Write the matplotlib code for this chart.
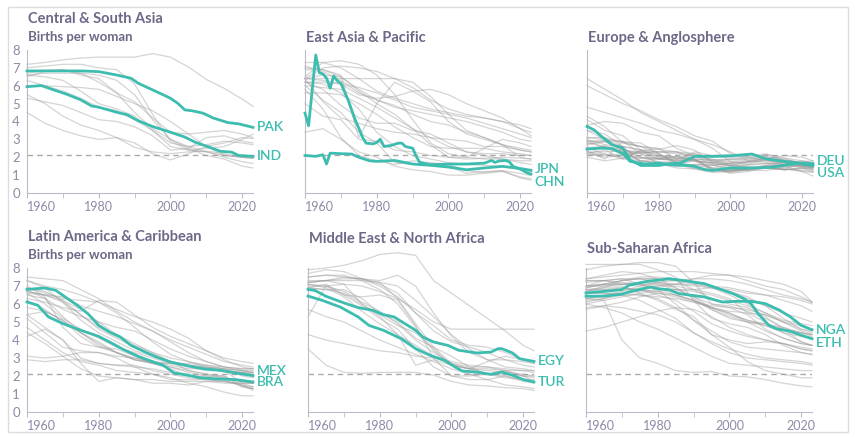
import matplotlib
matplotlib.use("Agg")
import matplotlib.pyplot as plt
from matplotlib.patches import Rectangle

plt.rcParams['font.family'] = ['Lato', 'DejaVu Sans']

years = [1960, 1965, 1970, 1975, 1980, 1985, 1990, 1995, 2000, 2005, 2010, 2015, 2020, 2023]

# Central & South Asia
csa_gray = [
    [7.2, 7.3, 7.45, 7.55, 7.6, 7.6, 7.6, 7.8, 7.6, 7.05, 6.35, 5.85, 5.25, 4.85],
    [6.5, 6.8, 6.9, 6.7, 6.2, 5.6, 5.1, 4.2, 3.4, 3.3, 3.4, 3.5, 3.3, 3.1],
    [6.7, 6.85, 6.9, 6.6, 6.4, 5.6, 4.5, 3.6, 3.0, 2.6, 2.3, 2.1, 2.0, 1.95],
    [6.0, 6.0, 5.95, 5.9, 5.8, 5.4, 5.0, 4.6, 4.0, 3.3, 2.6, 2.1, 2.0, 1.95],
    [5.5, 5.0, 4.3, 3.8, 3.5, 3.1, 2.55, 2.3, 2.2, 2.3, 2.35, 2.2, 2.0, 1.95],
    [6.6, 6.7, 6.7, 6.7, 6.6, 6.3, 5.5, 4.1, 3.0, 2.5, 2.1, 1.9, 1.5, 1.4],
    [7.0, 7.1, 7.2, 7.2, 7.0, 6.9, 6.1, 4.4, 2.9, 2.4, 2.3, 2.0, 1.75, 1.65],
    [6.3, 6.0, 5.7, 5.3, 4.8, 4.6, 4.1, 3.5, 2.6, 2.4, 2.5, 2.6, 3.0, 3.3],
    [6.6, 6.5, 6.3, 5.7, 5.0, 4.7, 4.3, 3.5, 2.8, 2.6, 2.7, 2.9, 2.8, 2.7],
    [5.3, 5.1, 4.9, 4.5, 4.1, 4.0, 3.7, 3.2, 2.4, 2.5, 3.1, 3.2, 2.9, 2.8],
    [4.5, 3.9, 3.5, 3.2, 3.0, 3.1, 2.8, 2.2, 1.85, 2.2, 2.6, 2.8, 3.1, 3.05],
]
pak_years = [1960, 1975, 1980, 1985, 1989, 1991, 1995, 1998, 2000, 2002, 2004, 2006, 2009, 2012, 2016, 2019, 2023]
pak = [6.83, 6.83, 6.79, 6.6, 6.42, 6.14, 5.77, 5.49, 5.3, 5.02, 4.65, 4.6, 4.47, 4.19, 3.94, 3.87, 3.67]
ind_years = [1960, 1964, 1967, 1971, 1975, 1978, 1980, 1985, 1988, 1991, 1995, 2000, 2004, 2007, 2011, 2014, 2017, 2019, 2023]
ind = [5.95, 6.01, 5.8, 5.53, 5.21, 4.87, 4.8, 4.52, 4.37, 4.04, 3.72, 3.4, 3.13, 2.83, 2.55, 2.33, 2.29, 2.1, 2.05]

# East Asia & Pacific
eap_gray = [
    [6.0, 5.2, 4.5, 3.4, 2.8, 1.7, 1.6, 1.65, 1.5, 1.1, 1.2, 1.25, 0.84, 0.72],
    [5.8, 4.7, 3.1, 2.1, 1.8, 1.6, 1.8, 1.7, 1.6, 1.25, 1.15, 1.25, 1.1, 0.97],
    [3.4, 3.6, 3.0, 2.3, 2.0, 1.5, 1.3, 1.2, 1.0, 1.0, 1.1, 1.2, 0.9, 0.8],
    [6.2, 6.1, 5.6, 4.7, 3.4, 2.6, 2.1, 1.9, 1.7, 1.6, 1.55, 1.5, 1.3, 1.2],
    [6.2, 5.8, 4.9, 4.2, 3.9, 3.9, 3.5, 3.3, 2.8, 2.3, 2.1, 1.9, 1.7, 1.6],
    [5.6, 5.6, 5.5, 5.0, 4.4, 3.7, 3.1, 2.6, 2.5, 2.5, 2.5, 2.3, 2.2, 2.1],
    [7.1, 6.8, 6.3, 5.6, 5.2, 4.9, 4.4, 4.0, 3.8, 3.4, 3.1, 2.7, 2.0, 1.9],
    [6.4, 6.6, 6.5, 5.7, 5.0, 4.4, 3.6, 2.7, 2.0, 1.9, 1.95, 2.0, 1.95, 1.9],
    [6.9, 6.9, 6.6, 3.1, 5.0, 6.2, 5.7, 5.1, 4.0, 3.3, 3.0, 2.7, 2.4, 2.3],
    [6.4, 6.4, 6.4, 6.4, 6.4, 6.4, 6.2, 5.4, 4.4, 3.5, 3.1, 2.7, 2.5, 2.4],
    [6.0, 5.9, 5.8, 5.3, 4.8, 4.2, 3.6, 3.1, 2.6, 2.3, 2.2, 2.2, 2.1, 2.1],
    [6.5, 7.3, 7.4, 7.2, 6.6, 5.5, 4.1, 2.8, 2.2, 2.0, 2.5, 3.0, 2.8, 2.6],
    [6.2, 6.2, 6.1, 5.9, 5.6, 5.2, 4.8, 4.6, 4.4, 4.2, 3.9, 3.6, 3.3, 3.1],
    [6.4, 7.0, 7.1, 7.0, 6.8, 6.4, 5.9, 5.2, 4.7, 4.4, 4.2, 4.0, 3.6, 3.4],
    [6.4, 6.3, 6.1, 5.5, 5.3, 5.4, 5.7, 5.8, 5.5, 5.0, 4.6, 4.2, 3.6, 3.2],
    [6.4, 5.1, 4.2, 3.9, 3.6, 3.4, 3.3, 3.1, 3.0, 2.9, 2.6, 2.6, 2.4, 2.3],
    [7.3, 7.3, 7.0, 6.4, 5.7, 5.3, 5.0, 4.7, 4.5, 4.3, 4.2, 4.0, 3.8, 3.6],
    [5.0, 4.3, 4.1, 3.0, 2.9, 2.4, 2.3, 2.1, 2.0, 2.0, 1.9, 1.9, 1.8, 1.8],
    [7.0, 6.9, 6.5, 5.8, 5.2, 4.8, 4.6, 4.4, 4.2, 4.0, 3.7, 3.4, 3.0, 2.9],
]
chn_years = [1960, 1961, 1963, 1964, 1965, 1966, 1967, 1968, 1969, 1970, 1971, 1972, 1973, 1974, 1975,
             1976, 1977, 1979, 1980, 1981, 1982, 1984, 1986, 1987, 1988, 1989, 1990, 1991, 1992, 1995,
             2000, 2005, 2010, 2012, 2013, 2014, 2016, 2017, 2018, 2020, 2022, 2023]
chn = [4.47, 3.76, 7.72, 6.73, 6.66, 6.42, 5.86, 6.55, 6.27, 6.14, 5.67, 5.21, 4.65, 4.09, 3.63,
       3.13, 2.79, 2.75, 2.83, 3.01, 2.6, 2.66, 2.79, 2.79, 2.6, 2.55, 2.51, 2.05, 1.71, 1.58,
       1.62, 1.62, 1.67, 1.82, 1.71, 1.79, 1.82, 1.73, 1.49, 1.34, 1.12, 1.06]
jpn_years = [1960, 1963, 1965, 1966, 1967, 1970, 1973, 1975, 1978, 1980, 1985, 1990, 1995, 2000, 2005, 2010, 2015, 2019, 2023]
jpn = [2.1, 2.05, 2.14, 1.62, 2.23, 2.2, 2.18, 2.0, 1.8, 1.77, 1.82, 1.62, 1.55, 1.45, 1.3, 1.4, 1.49, 1.4, 1.27]

# Europe & Anglosphere
eur_gray = [
    [6.4, 5.8, 5.2, 4.5, 4.0, 3.5, 3.0, 2.7, 2.3, 1.8, 1.7, 1.6, 1.45, 1.35],
    [6.0, 5.5, 5.0, 4.6, 4.1, 3.7, 3.2, 2.9, 2.2, 2.0, 1.8, 1.7, 1.5, 1.4],
    [4.3, 3.7, 2.8, 2.6, 2.5, 1.9, 2.3, 2.1, 2.1, 2.05, 2.2, 1.8, 1.7, 1.6],
    [3.8, 4.0, 3.9, 3.4, 3.2, 2.5, 2.1, 1.85, 1.9, 1.9, 2.05, 1.85, 1.7, 1.55],
    [4.1, 3.5, 3.2, 2.4, 2.0, 1.9, 2.2, 2.0, 2.0, 2.0, 2.15, 1.95, 1.6, 1.55],
    [3.8, 3.1, 2.3, 1.8, 1.7, 1.6, 1.8, 1.65, 1.5, 1.55, 1.65, 1.6, 1.4, 1.3],
    [3.5, 3.0, 2.9, 2.2, 1.9, 1.9, 1.9, 1.8, 1.75, 1.8, 1.95, 1.8, 1.6, 1.5],
    [2.7, 2.9, 2.4, 1.8, 1.9, 1.8, 1.8, 1.7, 1.65, 1.75, 1.9, 1.8, 1.55, 1.45],
    [2.75, 2.85, 2.5, 1.95, 1.95, 1.8, 1.8, 1.7, 1.9, 1.95, 2.0, 1.95, 1.8, 1.65],
    [2.4, 2.65, 2.4, 2.2, 1.65, 1.4, 1.35, 1.2, 1.25, 1.35, 1.45, 1.35, 1.25, 1.2],
    [2.85, 2.95, 2.85, 2.8, 2.2, 1.6, 1.35, 1.15, 1.2, 1.35, 1.4, 1.35, 1.2, 1.15],
    [3.1, 3.1, 2.8, 2.6, 2.2, 1.7, 1.55, 1.4, 1.55, 1.4, 1.4, 1.3, 1.4, 1.4],
    [2.95, 2.5, 2.2, 2.25, 2.3, 2.3, 2.05, 1.6, 1.35, 1.25, 1.4, 1.3, 1.35, 1.2],
    [2.55, 2.15, 2.0, 1.95, 1.9, 2.05, 1.9, 1.35, 1.2, 1.3, 1.55, 1.75, 1.5, 1.4],
    [2.2, 2.0, 2.1, 2.0, 1.95, 2.05, 1.85, 1.4, 1.1, 1.2, 1.45, 1.5, 1.2, 0.95],
    [2.35, 1.9, 2.9, 2.6, 2.45, 2.3, 1.85, 1.35, 1.3, 1.4, 1.5, 1.6, 1.8, 1.7],
    [2.0, 1.8, 1.95, 2.35, 1.9, 1.85, 1.85, 1.55, 1.3, 1.3, 1.25, 1.45, 1.6, 1.55],
    [2.1, 2.2, 1.9, 2.4, 2.1, 1.95, 1.9, 1.3, 1.15, 1.3, 1.5, 1.6, 1.7, 1.65],
    [2.2, 2.4, 1.9, 1.8, 1.7, 1.75, 2.1, 1.75, 1.55, 1.75, 1.95, 1.85, 1.7, 1.55],
    [2.9, 2.9, 2.5, 2.0, 1.75, 1.7, 1.9, 1.85, 1.85, 1.85, 1.95, 1.75, 1.5, 1.45],
    [3.1, 3.0, 2.6, 1.7, 1.6, 1.5, 1.6, 1.55, 1.7, 1.7, 1.8, 1.65, 1.55, 1.45],
    [2.55, 2.6, 2.25, 1.75, 1.7, 1.5, 1.6, 1.55, 1.65, 1.75, 1.85, 1.7, 1.55, 1.5],
    [2.3, 2.3, 2.4, 2.3, 2.2, 1.7, 1.4, 1.3, 1.25, 1.3, 1.5, 1.3, 1.4, 1.3],
    [2.8, 2.6, 2.3, 2.3, 2.3, 2.2, 2.1, 1.9, 1.6, 1.45, 1.4, 1.45, 1.5, 1.5],
    [2.3, 2.1, 2.2, 2.25, 2.05, 2.0, 1.8, 1.25, 1.25, 1.4, 1.55, 1.55, 1.6, 1.6],
    [3.5, 3.3, 2.6, 2.4, 2.45, 2.65, 2.4, 1.7, 1.5, 1.45, 1.4, 1.3, 1.75, 1.8],
    [4.8, 4.5, 4.2, 3.9, 3.5, 3.3, 3.0, 2.5, 1.75, 1.6, 1.65, 1.7, 1.6, 1.6],
    [3.0, 2.7, 2.6, 2.4, 2.3, 2.3, 2.2, 1.8, 1.55, 1.6, 1.9, 2.1, 2.0, 1.8],
]
usa_years = [1960, 1962, 1964, 1967, 1970, 1972, 1975, 1980, 1983, 1986, 1990, 1995, 2000, 2006, 2010, 2015, 2019, 2023]
usa = [3.72, 3.53, 3.16, 2.7, 2.51, 1.86, 1.54, 1.54, 1.64, 1.67, 2.05, 2.05, 2.08, 2.18, 1.9, 1.77, 1.67, 1.53]
deu_years = [1960, 1964, 1967, 1970, 1972, 1976, 1980, 1983, 1988, 1990, 1993, 1995, 2000, 2006, 2011, 2016, 2019, 2023]
deu = [2.46, 2.51, 2.48, 2.2, 1.77, 1.62, 1.67, 1.58, 1.54, 1.49, 1.3, 1.27, 1.4, 1.4, 1.43, 1.58, 1.67, 1.64]

# Latin America & Caribbean
lac_gray = [
    [6.9, 6.6, 6.3, 6.2, 6.1, 5.7, 5.3, 5.0, 4.6, 4.1, 3.4, 2.9, 2.5, 2.4],
    [7.5, 7.4, 7.3, 6.8, 6.3, 5.6, 5.0, 4.5, 3.9, 3.3, 2.8, 2.5, 2.3, 2.2],
    [7.3, 7.0, 6.8, 6.5, 6.1, 5.5, 4.7, 3.9, 3.2, 2.8, 2.5, 2.4, 2.3, 2.2],
    [6.6, 6.5, 6.4, 5.9, 5.6, 5.3, 4.9, 4.5, 4.0, 3.6, 3.2, 2.8, 2.6, 2.5],
    [6.3, 6.1, 5.8, 5.6, 6.2, 6.1, 5.4, 4.7, 4.2, 3.8, 3.4, 3.0, 2.8, 2.7],
    [6.7, 6.5, 6.2, 5.7, 5.0, 4.3, 3.8, 3.3, 2.8, 2.3, 2.1, 1.9, 1.7, 1.6],
    [6.5, 6.3, 5.7, 5.3, 5.0, 4.7, 4.5, 4.0, 3.5, 3.1, 2.8, 2.5, 2.4, 2.4],
    [6.9, 6.7, 6.2, 5.4, 4.6, 4.1, 3.6, 3.2, 2.8, 2.6, 2.5, 2.3, 2.2, 2.1],
    [6.7, 6.5, 6.1, 5.4, 4.7, 4.2, 3.7, 3.3, 3.0, 2.8, 2.6, 2.4, 2.0, 1.9],
    [6.8, 6.3, 5.3, 4.4, 3.8, 3.3, 3.0, 2.7, 2.5, 2.2, 2.0, 1.9, 1.7, 1.6],
    [6.6, 6.0, 5.2, 4.6, 4.1, 3.6, 3.3, 3.0, 2.7, 2.5, 2.3, 2.3, 2.2, 2.1],
    [7.3, 6.9, 6.1, 5.1, 4.4, 3.9, 3.4, 3.1, 2.8, 2.6, 2.4, 2.3, 2.2, 2.2],
    [7.0, 6.4, 4.7, 3.8, 3.6, 3.5, 3.1, 2.7, 2.4, 2.0, 1.9, 1.8, 1.4, 1.3],
    [5.8, 5.6, 5.1, 4.2, 3.6, 3.3, 2.9, 2.8, 2.7, 2.6, 2.5, 2.4, 2.3, 2.3],
    [5.4, 5.6, 5.1, 4.4, 3.7, 3.3, 2.9, 2.7, 2.5, 2.3, 2.1, 2.0, 1.4, 1.3],
    [5.4, 4.7, 4.0, 3.0, 2.7, 2.6, 2.6, 2.3, 2.1, 1.9, 1.8, 1.7, 1.5, 1.2],
    [3.1, 3.0, 3.1, 3.3, 3.3, 3.1, 3.0, 2.8, 2.6, 2.4, 2.4, 2.3, 1.6, 1.4],
    [2.9, 2.8, 2.9, 2.9, 2.7, 2.6, 2.5, 2.4, 2.2, 2.0, 2.0, 2.0, 1.5, 1.3],
    [4.2, 4.6, 4.0, 2.7, 1.7, 1.9, 1.8, 1.6, 1.6, 1.5, 1.7, 1.7, 1.5, 1.4],
    [4.7, 4.0, 3.3, 2.8, 2.6, 2.3, 2.2, 2.1, 1.9, 1.6, 1.4, 1.1, 0.9, 0.9],
    [5.2, 4.4, 3.6, 3.4, 3.3, 3.0, 2.5, 2.1, 1.8, 1.8, 1.8, 1.7, 1.6, 1.6],
    [6.2, 5.7, 5.0, 4.4, 3.9, 3.3, 2.9, 2.7, 2.7, 2.7, 2.6, 2.5, 2.4, 2.4],
    [4.4, 3.8, 3.1, 2.4, 2.0, 1.9, 1.8, 1.8, 1.7, 1.7, 1.7, 1.6, 1.6, 1.6],
]
mex_years = [1960, 1965, 1968, 1970, 1974, 1977, 1980, 1983, 1986, 1989, 1993, 1996, 2000, 2005, 2009, 2014, 2018, 2023]
mex = [6.81, 6.89, 6.76, 6.48, 5.93, 5.46, 4.81, 4.44, 4.17, 3.7, 3.33, 3.06, 2.78, 2.56, 2.41, 2.31, 2.17, 2.02]
bra_years = [1960, 1963, 1966, 1970, 1975, 1980, 1983, 1987, 1991, 1994, 1998, 2001, 2005, 2008, 2012, 2018, 2023]
bra = [6.11, 5.93, 5.28, 4.91, 4.54, 4.2, 3.89, 3.46, 3.09, 2.87, 2.59, 2.17, 2.04, 1.91, 1.85, 1.8, 1.67]

# Middle East & North Africa
mena_gray = [
    [7.9, 8.0, 8.15, 8.4, 8.75, 8.85, 8.7, 7.3, 6.6, 5.9, 5.2, 4.5, 3.7, 3.4],
    [5.3, 7.0, 7.1, 7.0, 6.7, 6.3, 5.7, 5.0, 4.6, 4.6, 4.6, 4.6, 4.6, 4.6],
    [7.2, 7.3, 7.3, 7.3, 7.2, 7.0, 6.2, 5.3, 4.3, 3.5, 2.9, 2.5, 2.4, 2.3],
    [7.3, 7.3, 7.4, 7.4, 7.3, 7.6, 7.0, 5.5, 4.2, 3.3, 2.9, 2.9, 2.6, 2.5],
    [7.5, 7.6, 7.5, 7.4, 7.1, 6.6, 5.5, 4.5, 3.9, 3.6, 3.3, 2.9, 2.8, 2.7],
    [7.7, 7.9, 7.8, 7.4, 7.0, 6.4, 5.5, 4.8, 4.0, 3.7, 3.6, 3.3, 2.9, 2.8],
    [7.5, 7.6, 7.6, 7.3, 6.8, 6.0, 4.7, 3.4, 2.6, 2.4, 2.8, 3.1, 2.9, 2.7],
    [7.0, 7.0, 6.7, 6.1, 5.6, 4.9, 4.0, 3.3, 2.7, 2.5, 2.5, 2.4, 2.3, 2.2],
    [7.1, 7.0, 6.5, 5.9, 5.2, 4.6, 3.5, 2.5, 2.0, 2.0, 2.1, 2.3, 2.0, 1.7],
    [7.2, 7.3, 7.5, 7.4, 7.2, 6.3, 4.9, 3.6, 2.7, 2.4, 2.4, 2.3, 2.3, 2.3],
    [6.9, 7.1, 6.5, 6.4, 6.5, 6.2, 4.8, 3.0, 2.0, 1.8, 1.8, 2.0, 1.7, 1.6],
    [7.2, 7.3, 7.1, 6.0, 5.3, 4.3, 2.6, 2.9, 2.6, 2.4, 2.3, 2.2, 2.1, 2.0],
    [6.9, 6.8, 6.6, 6.0, 5.4, 4.8, 4.4, 3.5, 2.6, 2.1, 1.8, 1.5, 1.4, 1.3],
    [6.9, 6.8, 6.8, 6.3, 5.5, 5.0, 4.1, 3.6, 3.1, 2.5, 2.1, 1.9, 1.8, 1.8],
    [7.1, 6.9, 6.4, 5.6, 4.9, 4.3, 3.7, 3.1, 2.6, 2.4, 2.1, 2.0, 1.8, 1.7],
    [5.7, 5.3, 5.0, 4.5, 4.0, 3.6, 3.2, 2.8, 2.4, 2.1, 2.1, 2.1, 2.0, 2.0],
    [4.3, 4.0, 3.8, 3.6, 3.4, 3.3, 3.1, 3.0, 2.8, 2.6, 2.5, 2.3, 2.0, 1.9],
    [3.5, 2.6, 2.2, 2.15, 2.2, 2.2, 2.2, 2.05, 1.7, 1.5, 1.45, 1.35, 1.3, 1.2],
]
egy_years = [1960, 1962, 1965, 1970, 1974, 1978, 1981, 1984, 1987, 1990, 1992, 1995, 1999, 2002, 2007, 2011, 2013, 2014, 2017, 2019, 2023]
egy = [6.81, 6.75, 6.43, 6.06, 5.8, 5.65, 5.41, 5.28, 4.91, 4.54, 4.17, 3.89, 3.7, 3.43, 3.28, 3.33, 3.52, 3.52, 3.28, 2.96, 2.81]
tur_years = [1960, 1964, 1969, 1974, 1977, 1981, 1986, 1990, 1994, 1998, 2001, 2003, 2007, 2011, 2014, 2017, 2020, 2023]
tur = [6.44, 6.2, 5.83, 5.28, 4.81, 4.54, 4.07, 3.52, 3.15, 2.87, 2.5, 2.28, 2.22, 2.09, 2.22, 2.04, 1.8, 1.67]

# Sub-Saharan Africa
ssa_gray = [
    [7.4, 7.5, 7.6, 7.7, 7.8, 7.8, 7.8, 7.7, 7.6, 7.5, 7.3, 7.1, 6.7, 6.1],
    [7.3, 7.3, 7.1, 7.0, 7.0, 7.1, 7.4, 7.6, 7.6, 7.3, 7.0, 6.8, 6.4, 6.1],
    [6.0, 6.2, 6.4, 6.6, 6.7, 6.8, 6.8, 6.9, 6.8, 6.6, 6.5, 6.4, 6.2, 6.0],
    [6.3, 6.5, 6.7, 7.0, 7.2, 7.3, 7.4, 7.4, 7.3, 7.1, 6.8, 6.5, 6.3, 6.1],
    [7.0, 7.0, 7.1, 7.2, 7.2, 7.1, 7.1, 7.0, 6.9, 6.7, 6.5, 6.2, 5.9, 5.6],
    [6.7, 6.9, 7.3, 7.5, 7.5, 7.4, 7.2, 7.0, 6.7, 6.3, 5.9, 5.5, 5.2, 5.0],
    [6.9, 7.1, 7.3, 7.4, 7.4, 7.3, 7.1, 6.9, 6.5, 6.0, 5.5, 5.1, 4.9, 4.8],
    [7.0, 7.1, 7.1, 7.1, 7.1, 7.1, 7.0, 6.9, 6.7, 6.4, 5.9, 5.2, 4.6, 4.4],
    [6.8, 6.8, 6.8, 6.8, 6.7, 6.5, 6.2, 5.8, 5.6, 5.5, 5.4, 5.0, 4.8, 4.6],
    [6.6, 6.6, 6.6, 6.5, 6.4, 6.3, 6.1, 5.9, 5.8, 5.7, 5.4, 5.0, 4.6, 4.5],
    [6.3, 6.4, 6.6, 6.7, 6.8, 6.8, 6.7, 6.5, 6.2, 5.9, 5.5, 5.0, 4.5, 4.3],
    [5.7, 5.9, 6.1, 6.4, 6.6, 6.5, 6.2, 5.7, 5.3, 5.0, 4.8, 4.4, 4.2, 4.1],
    [6.8, 6.9, 6.9, 6.8, 6.5, 6.2, 5.6, 4.9, 4.5, 4.2, 4.0, 3.8, 3.6, 3.5],
    [7.9, 8.1, 8.2, 8.2, 7.9, 7.5, 6.2, 5.2, 4.9, 4.7, 4.3, 3.7, 3.3, 3.2],
    [8.2, 8.2, 8.2, 8.3, 8.3, 8.1, 7.2, 6.0, 5.8, 5.4, 4.6, 4.1, 3.8, 3.7],
    [7.0, 7.3, 7.4, 7.4, 7.2, 6.9, 6.4, 6.0, 5.9, 5.6, 5.2, 4.7, 4.3, 4.1],
    [7.2, 7.3, 7.4, 7.1, 6.8, 6.0, 5.1, 4.3, 4.0, 3.8, 3.9, 3.8, 3.5, 3.4],
    [7.0, 7.1, 7.1, 7.2, 7.1, 6.8, 6.4, 5.8, 5.4, 5.1, 4.9, 4.6, 4.4, 4.2],
    [7.3, 7.3, 7.2, 7.1, 6.9, 6.5, 6.2, 5.8, 5.5, 5.0, 4.5, 4.1, 3.8, 3.7],
    [7.4, 7.6, 7.8, 7.7, 7.4, 6.9, 6.3, 5.7, 5.2, 5.0, 4.9, 4.7, 4.4, 4.3],
    [6.7, 6.8, 6.9, 6.8, 6.6, 6.4, 6.1, 5.8, 5.5, 5.1, 4.8, 4.6, 4.4, 4.3],
    [6.9, 7.1, 7.3, 7.4, 7.4, 7.3, 6.8, 6.3, 6.0, 5.8, 5.3, 4.6, 3.9, 3.7],
    [6.1, 6.3, 6.6, 6.9, 7.0, 7.0, 6.8, 6.6, 6.3, 5.5, 5.0, 4.4, 3.9, 3.7],
    [6.6, 6.6, 6.5, 6.2, 5.7, 5.2, 4.4, 3.8, 3.3, 3.0, 2.9, 2.8, 2.7, 2.6],
    [6.0, 5.8, 5.5, 5.0, 4.6, 4.1, 3.6, 3.1, 2.7, 2.6, 2.5, 2.4, 2.3, 2.3],
    [5.8, 5.9, 5.8, 5.6, 5.4, 5.0, 4.4, 3.9, 3.5, 3.2, 3.0, 2.9, 2.8, 2.7],
    [4.5, 4.7, 5.0, 5.3, 5.6, 5.8, 5.7, 5.3, 4.7, 4.3, 4.0, 3.8, 3.5, 3.4],
    [6.3, 6.2, 4.0, 3.0, 2.7, 2.3, 2.2, 2.25, 2.0, 1.95, 1.8, 1.6, 1.45, 1.4],
    [6.7, 7.0, 7.0, 6.6, 6.2, 5.7, 5.3, 4.3, 3.6, 2.8, 2.3, 2.1, 1.9, 1.9],
    [6.2, 6.3, 6.5, 6.5, 6.3, 5.8, 5.1, 4.5, 3.9, 3.6, 3.5, 3.4, 3.3, 3.2],
]
eth_years = [1960, 1965, 1970, 1972, 1977, 1982, 1983, 1987, 1993, 1997, 2001, 2004, 2006, 2008, 2011, 2013, 2017, 2020, 2023]
eth = [6.61, 6.7, 6.8, 7.04, 7.26, 7.37, 7.41, 7.31, 7.13, 6.85, 6.57, 6.3, 6.02, 5.46, 4.81, 4.63, 4.48, 4.26, 4.07]
nga_years = [1960, 1965, 1970, 1972, 1978, 1980, 1983, 1986, 1993, 1998, 2002, 2006, 2010, 2014, 2017, 2020, 2023]
nga = [6.43, 6.44, 6.54, 6.67, 6.94, 6.85, 6.8, 6.57, 6.39, 6.11, 6.15, 6.15, 6.02, 5.65, 5.28, 4.81, 4.57]

W, H = 855, 437
TEAL = '#3dbdb0'
TITLE = '#6c6888'
TICK = '#8e8aa8'
SPINE = '#bdbacb'

fig = plt.figure(figsize=(W / 100, H / 100), dpi=100)
fig.patches.append(Rectangle((8 / W, 1 - 432 / H), 840 / W, 425 / H, transform=fig.transFigure,
                             fill=False, ec='#dcdcdc', lw=1))

panels = [
    # title, subtitle, gray, highlights, axes left px, y0 px, unit px, title y px, show y labels
    ('Central & South Asia', 'Births per woman', csa_gray,
     [('PAK', pak_years, pak, 3.68), ('IND', ind_years, ind, 2.05)], 27, 193, 17.875, 19, True),
    ('East Asia & Pacific', None, eap_gray,
     [('JPN', jpn_years, jpn, 1.36), ('CHN', chn_years, chn, 0.6)], 305, 193, 17.875, 38, False),
    ('Europe & Anglosphere', None, eur_gray,
     [('DEU', deu_years, deu, 1.8), ('USA', usa_years, usa, 1.12)], 587, 193, 17.875, 38, False),
    ('Latin America & Caribbean', 'Births per woman', lac_gray,
     [('MEX', mex_years, mex, 2.28), ('BRA', bra_years, bra, 1.67)], 27, 412, 18, 237, True),
    ('Middle East & North Africa', None, mena_gray,
     [('EGY', egy_years, egy, 2.81), ('TUR', tur_years, tur, 1.67)], 308, 412, 18, 239, False),
    ('Sub-Saharan Africa', None, ssa_gray,
     [('NGA', nga_years, nga, 4.57), ('ETH', eth_years, eth, 3.85)], 586, 412, 18, 249, False),
]

for title, sub, gray, highlights, left, y0, unit, ty, ylab in panels:
    ax = fig.add_axes([left / W, 1 - y0 / H, 226 / W, 9 * unit / H])
    ax.patch.set_alpha(0)
    ax.set_xlim(1960, 2023)
    ax.set_ylim(0, 9)
    for s in ['top', 'right']:
        ax.spines[s].set_visible(False)
    ax.spines['left'].set_bounds(0, 8)
    ax.spines['left'].set_color(SPINE)
    ax.spines['bottom'].set_color(SPINE)

    for vals in gray:
        ax.plot(years, vals, color='#9a9a9a', alpha=0.42, lw=0.9, clip_on=False)
    ax.axhline(2.1, color='#aaaaaa', lw=1, dashes=(4, 3), zorder=1)
    for name, yrs, vals, ly in highlights:
        ax.plot(yrs, vals, color=TEAL, lw=2.0, clip_on=False, zorder=5,
                solid_joinstyle='round')
        ax.text(2024, ly, name, color=TEAL, fontsize=10, fontweight='semibold',
                va='center', ha='left')

    ax.set_xticks([1960, 1980, 2000, 2020])
    ax.set_xticklabels(['1960', '1980', '2000', '2020'])
    ax.set_xticks([1970, 1990, 2010], minor=True)
    ax.tick_params(axis='x', which='both', length=3.5, color=SPINE, labelcolor=TICK,
                   labelsize=9, pad=2)
    ax.get_xticklabels()[0].set_ha('left')
    ax.set_yticks(range(9))
    if ylab:
        ax.tick_params(axis='y', length=0, labelcolor=TICK, labelsize=9.5, pad=5)
    else:
        ax.tick_params(axis='y', length=0, labelleft=False)

    fig.text((left + 1) / W, 1 - ty / H, title, color=TITLE, fontsize=10.5,
             fontweight='bold', va='center', ha='left')
    if sub:
        fig.text((left + 1) / W, 1 - (ty + 18) / H, sub, color=TITLE, fontsize=9.5,
                 fontweight='bold', va='center', ha='left')

fig.savefig('out.png', dpi=100)
